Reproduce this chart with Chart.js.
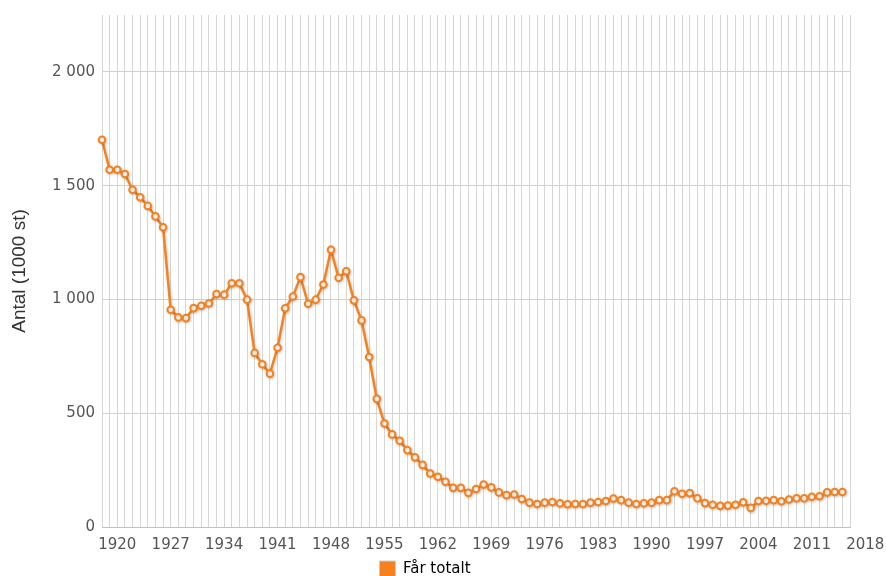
<!DOCTYPE html>
<html>
<head>
<meta charset="utf-8">
<script src="https://cdn.jsdelivr.net/npm/chart.js@4/dist/chart.umd.min.js"></script>
<style>
  html, body { margin: 0; padding: 0; background: #ffffff; }
  #wrap { width: 886px; height: 576px; position: relative; }
</style>
</head>
<body>
<div id="wrap"><canvas id="c" width="886" height="576"></canvas></div>
<script>
// ---- data ----
const years = [
  1918, 1919, 1920, 1921, 1922, 1923, 1924, 1925, 1926, 1927,
  1928, 1929, 1930, 1931, 1932, 1933, 1934, 1935, 1936, 1937,
  1938, 1939, 1940, 1941, 1942, 1943, 1944, 1945, 1946, 1947,
  1948, 1949, 1950, 1951, 1952, 1953, 1954, 1955, 1956, 1957,
  1958, 1959, 1960, 1961, 1962, 1963, 1964, 1965, 1966, 1967,
  1968, 1969, 1970, 1971, 1972, 1973, 1974, 1975, 1976, 1977,
  1978, 1979, 1980, 1981, 1982, 1983, 1984, 1985, 1986, 1987,
  1988, 1989, 1990, 1991, 1992, 1993, 1994, 1995, 1996, 1997,
  1998, 1999, 2000, 2001, 2002, 2003, 2004, 2005, 2006, 2007,
  2008, 2009, 2010, 2011, 2012, 2013, 2014, 2015
];
const farTotalt = [
  1702, 1570, 1570, 1551, 1482, 1449, 1411, 1365, 1317, 955,
  921, 918, 962, 972, 982, 1024, 1021, 1071, 1071, 999,
  765, 715, 674, 788, 961, 1013, 1098, 981, 999, 1066,
  1218, 1095, 1124, 996, 908, 747, 563, 455, 407, 379,
  338, 306, 273, 235, 221, 199, 172, 172, 150, 167,
  187, 174, 152, 140, 143, 123, 107, 101, 107, 110,
  104, 100, 101, 101, 107, 110, 114, 125, 118, 107,
  101, 104, 107, 118, 118, 157, 146, 149, 126, 105,
  98, 93, 94, 98, 109, 84, 114, 115, 118, 113,
  121, 126, 126, 133, 135, 152, 154, 154
];
const gridYears = years.concat([2016]);
const xTickLabels = [1920, 1927, 1934, 1941, 1948, 1955, 1962, 1969, 1976, 1983, 1990, 1997, 2004, 2011, 2018];
const yTicks = [0, 500, 1000, 1500, 2000];
const seriesName = 'Får totalt';
const yTitle = 'Antal (1000 st)';

const ORANGE = '#f5821f';

function fmt(v) {
  return String(v).replace(/\B(?=(\d{3})+(?!\d))/g, ' ');
}

const shadowPlugin = {
  id: 'lineShadow',
  beforeDatasetDraw(chart) {
    const ctx = chart.ctx;
    ctx.save();
    ctx.shadowColor = 'rgba(0,0,0,0.18)';
    ctx.shadowBlur = 3;
    ctx.shadowOffsetX = 1;
    ctx.shadowOffsetY = 1;
  },
  afterDatasetDraw(chart) {
    chart.ctx.restore();
  }
};

new Chart(document.getElementById('c'), {
  type: 'line',
  data: {
    datasets: [{
      label: seriesName,
      data: years.map((y, i) => ({ x: y, y: farTotalt[i] })),
      borderColor: ORANGE,
      backgroundColor: ORANGE,
      borderWidth: 2.5,
      pointRadius: 3.3,
      pointBorderWidth: 2,
      pointBackgroundColor: '#ffffff',
      pointBorderColor: ORANGE,
      tension: 0,
      fill: false,
      clip: false
    }]
  },
  options: {
    responsive: false,
    animation: false,
    devicePixelRatio: 1,
    layout: { padding: { left: 0, right: 36, top: 15, bottom: 0 } },
    plugins: {
      tooltip: { enabled: false },
      legend: {
        position: 'bottom',
        maxHeight: 25,
        labels: {
          font: { family: 'DejaVu Sans', size: 15 },
          color: '#333333',
          boxWidth: 16,
          boxHeight: 16,
          padding: 10,
          generateLabels: (chart) => [{
            text: seriesName,
            fillStyle: ORANGE,
            strokeStyle: '#cccccc',
            lineWidth: 1,
            hidden: false,
            datasetIndex: 0
          }]
        }
      }
    },
    scales: {
      x: {
        type: 'linear',
        min: 1918,
        max: 2016,
        afterBuildTicks: (scale) => {
          scale.ticks = gridYears.concat([2018]).map(v => ({ value: v }));
        },
        afterFit: (scale) => {
          scale.height = 24;
          scale.paddingLeft = 0;
          scale.paddingRight = 0;
        },
        grid: {
          color: (ctx) => (ctx.tick && ctx.tick.value > 2016) ? 'rgba(0,0,0,0)' : '#d6d6d6',
          lineWidth: 1,
          drawTicks: false
        },
        border: { display: true, color: '#c0c0c0', width: 1 },
        ticks: {
          autoSkip: false,
          maxRotation: 0,
          minRotation: 0,
          padding: 9,
          color: '#555555',
          font: { family: 'DejaVu Sans', size: 15 },
          callback: (v) => xTickLabels.includes(v) ? String(v) : ''
        }
      },
      y: {
        type: 'linear',
        min: 0,
        max: 2250,
        afterBuildTicks: (scale) => {
          scale.ticks = yTicks.map(v => ({ value: v }));
        },
        afterFit: (scale) => {
          scale.width = 102;
          scale.paddingTop = 0;
          scale.paddingBottom = 0;
        },
        grid: {
          color: '#d0d0d0',
          lineWidth: 1,
          drawTicks: false
        },
        border: { display: false },
        ticks: {
          padding: 7,
          color: '#555555',
          font: { family: 'DejaVu Sans', size: 15 },
          callback: (v) => fmt(v)
        },
        title: {
          display: true,
          text: yTitle,
          color: '#333333',
          font: { family: 'Liberation Sans', size: 19 },
          padding: { top: 8, bottom: 4 }
        }
      }
    }
  },
  plugins: [shadowPlugin]
});
</script>
</body>
</html>
